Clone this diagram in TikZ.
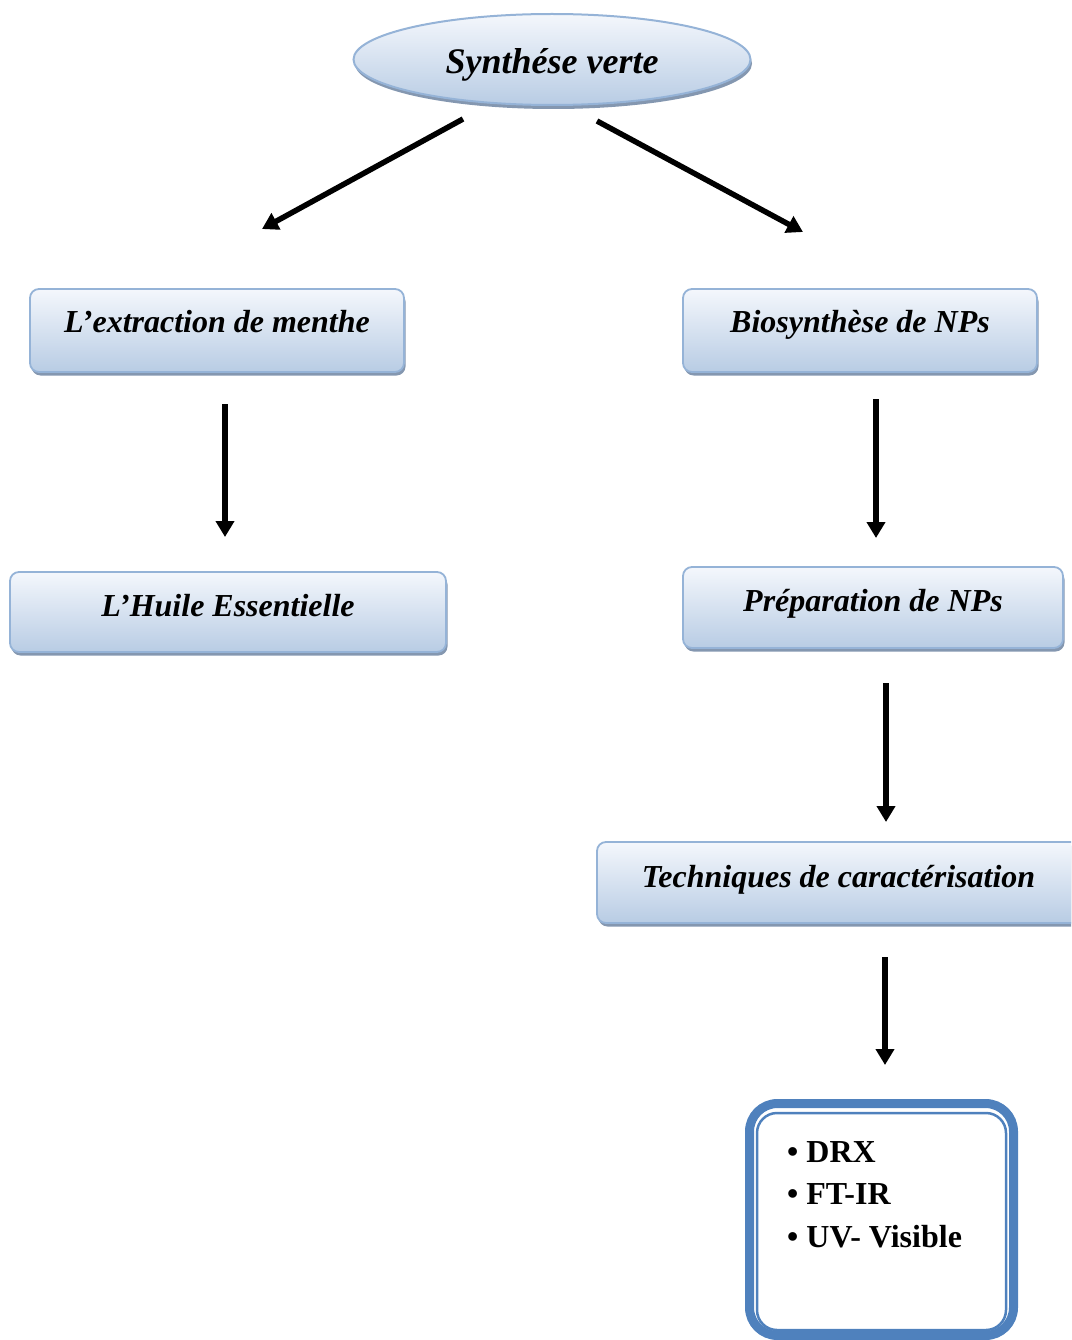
\documentclass[tikz,border=0pt]{standalone}
\usepackage{fontspec}
\setmainfont{Liberation Serif}
\usetikzlibrary{shapes.geometric,shadows,arrows.meta}
\definecolor{topc}{HTML}{F4F7FC}
\definecolor{botc}{HTML}{B8CCE4}
\definecolor{edgec}{HTML}{95B3D7}
\definecolor{shadc}{HTML}{8497B0}
\definecolor{deepblue}{HTML}{4F81BD}
\begin{document}
\begin{tikzpicture}[x=1pt,y=-1pt,
  box/.style={draw=edgec, line width=1.8pt, rounded corners=9pt,
    top color=topc, bottom color=botc, inner xsep=0pt, inner ysep=0pt,
    font=\fontsize{32}{38}\selectfont\bfseries\itshape,
    drop shadow={shadow xshift=1.5pt, shadow yshift=-3.5pt, fill=shadc, opacity=1}},
  arr/.style={line width=5.5pt, -{Triangle[length=16pt,width=18pt]}},
]
\useasboundingbox (0,0) rectangle (1071,1340);
\begin{scope}
\clip (0,0) rectangle (1071,1340);

\node[ellipse, draw=edgec, line width=2pt, top color=topc, bottom color=botc,
  minimum width=397pt, minimum height=91pt, inner sep=0pt,
  text height=30pt, text depth=2pt,
  font=\fontsize{36}{40}\selectfont\bfseries\itshape,
  drop shadow={shadow xshift=1.5pt, shadow yshift=-4pt, fill=shadc, opacity=1}]
  (top) at (552,59.5) {Synthése verte};

\node[box, minimum width=374pt, minimum height=83pt, text height=43pt, text depth=40pt]
  (b1) at (217,330.5) {L’extraction de menthe};
\node[box, minimum width=354pt, minimum height=83pt, text height=43pt, text depth=40pt]
  (b2) at (860,330.5) {Biosynthèse de NPs};
\node[box, minimum width=436pt, minimum height=80pt, text height=44pt, text depth=36pt]
  (b3) at (228,612) {L’Huile Essentielle};
\node[box, minimum width=380pt, minimum height=81pt, text height=44pt, text depth=37pt]
  (b4) at (873,607.5) {Préparation de NPs};
\node[box, minimum width=483pt, minimum height=81pt, text height=45pt, text depth=36pt]
  (b5) at (838.5,882.5) {Techniques de caractérisation};

\node[draw=deepblue, line width=9pt, rounded corners=28pt, outer sep=0pt,
  minimum width=264pt, minimum height=232pt] (res) at (881.5,1219.5) {};
\draw[deepblue, line width=2.5pt, rounded corners=20pt]
  ([shift={(7.5,9.5)}]res.north west) rectangle ([shift={(-7.5,-5.5)}]res.south east);
\node[anchor=north west, align=left, inner sep=0pt,
  font=\fontsize{32}{42.5}\selectfont\bfseries] (lst) at (787,1141)
  {• DRX\\• FT-IR\\• UV- Visible};

\coordinate (s1) at (463,119); \coordinate (e1) at (262,229);
\coordinate (s2) at (597,121); \coordinate (e2) at (803,232);
\coordinate (s3) at (225,404); \coordinate (e3) at (225,537);
\coordinate (s4) at (876,399); \coordinate (e4) at (876,538);
\coordinate (s5) at (886,683); \coordinate (e5) at (886,822);
\coordinate (s6) at (885,957); \coordinate (e6) at (885,1065);
\draw[arr] (s1) -- (e1);
\draw[arr] (s2) -- (e2);
\draw[arr] (s3) -- (e3);
\draw[arr] (s4) -- (e4);
\draw[arr] (s5) -- (e5);
\draw[arr] (s6) -- (e6);
\end{scope}
\end{tikzpicture}
\end{document}
